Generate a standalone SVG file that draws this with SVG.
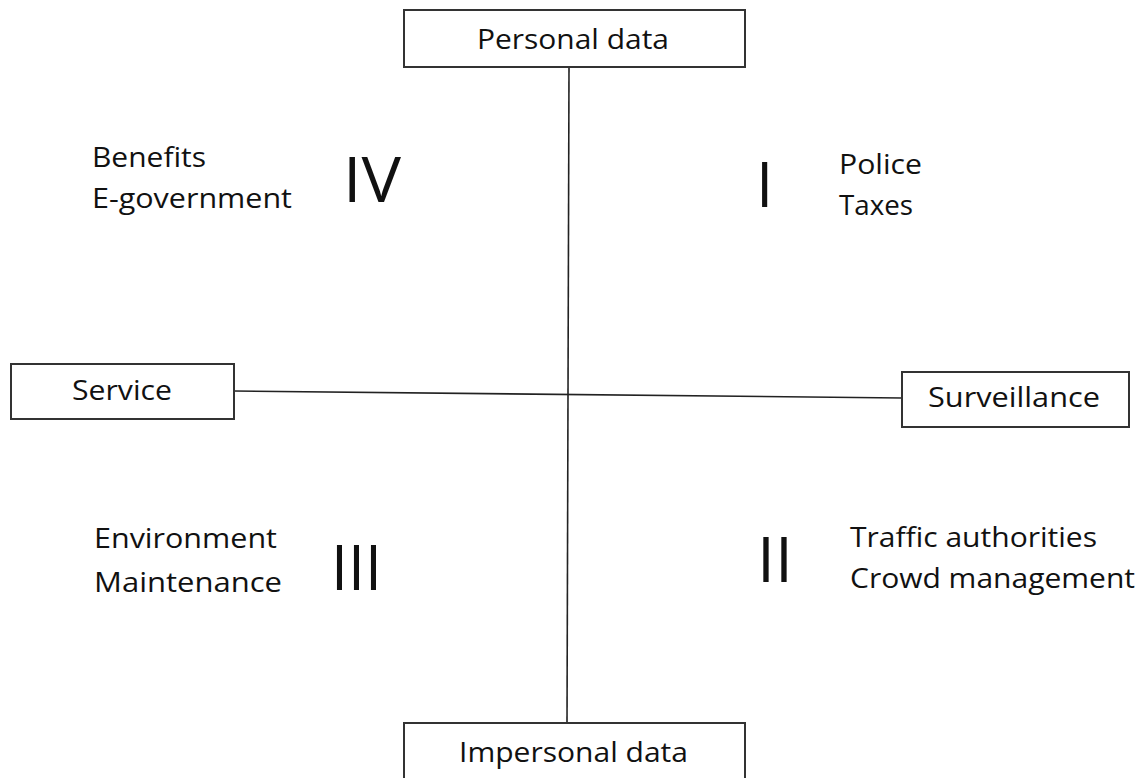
<svg xmlns="http://www.w3.org/2000/svg" width="1142" height="778" viewBox="0 0 1142 778">
<style>
.box{fill:#fff;stroke:#333;stroke-width:2}
.t{font-family:"Open Sans","Noto Sans",sans-serif;font-size:27px;fill:#111}
.n{font-family:"Open Sans","Noto Sans",sans-serif;font-size:62px;fill:#111;font-weight:400}
.ln{stroke:#222;stroke-width:1.6;fill:none}
</style>
<rect width="1142" height="778" fill="#fff"/>
<g id="connectors">
<line class="ln" x1="569" y1="67" x2="567" y2="723"/>
<line class="ln" x1="234" y1="391" x2="902" y2="398"/>
</g>
<g id="personal">
<rect class="box" x="404" y="10" width="341" height="57"/>
<text class="t" x="477" y="49" textLength="192" lengthAdjust="spacingAndGlyphs">Personal data</text>
</g>
<g id="service">
<rect class="box" x="11" y="364" width="223" height="55"/>
<text class="t" x="72" y="400" textLength="100" lengthAdjust="spacingAndGlyphs">Service</text>
</g>
<g id="surveillance">
<rect class="box" x="902" y="372" width="227" height="55"/>
<text class="t" x="928" y="407" textLength="172" lengthAdjust="spacingAndGlyphs">Surveillance</text>
</g>
<g id="impersonal">
<rect class="box" x="404" y="723" width="341" height="70"/>
<text class="t" x="459" y="762" textLength="229" lengthAdjust="spacingAndGlyphs">Impersonal data</text>
</g>
<g id="q4">
<text class="t" x="92" y="167" textLength="114" lengthAdjust="spacingAndGlyphs">Benefits</text>
<text class="t" x="92" y="208" textLength="200" lengthAdjust="spacingAndGlyphs">E-government</text>
<text class="n" x="343" y="202" textLength="58" lengthAdjust="spacingAndGlyphs">IV</text>
</g>
<g id="q1">
<text class="n" x="756" y="207">I</text>
<text class="t" x="839" y="174" textLength="83" lengthAdjust="spacingAndGlyphs">Police</text>
<text class="t" x="839" y="215" textLength="74" lengthAdjust="spacingAndGlyphs">Taxes</text>
</g>
<g id="q3">
<text class="t" x="94" y="548" textLength="183" lengthAdjust="spacingAndGlyphs">Environment</text>
<text class="t" x="94" y="592" textLength="188" lengthAdjust="spacingAndGlyphs">Maintenance</text>
<text class="n" x="331" y="590" textLength="51" lengthAdjust="spacingAndGlyphs">III</text>
</g>
<g id="q2">
<text class="n" x="757" y="582" textLength="36" lengthAdjust="spacingAndGlyphs">II</text>
<text class="t" x="850" y="547" textLength="247" lengthAdjust="spacingAndGlyphs">Traffic authorities</text>
<text class="t" x="850" y="588" textLength="285" lengthAdjust="spacingAndGlyphs">Crowd management</text>
</g>
</svg>
